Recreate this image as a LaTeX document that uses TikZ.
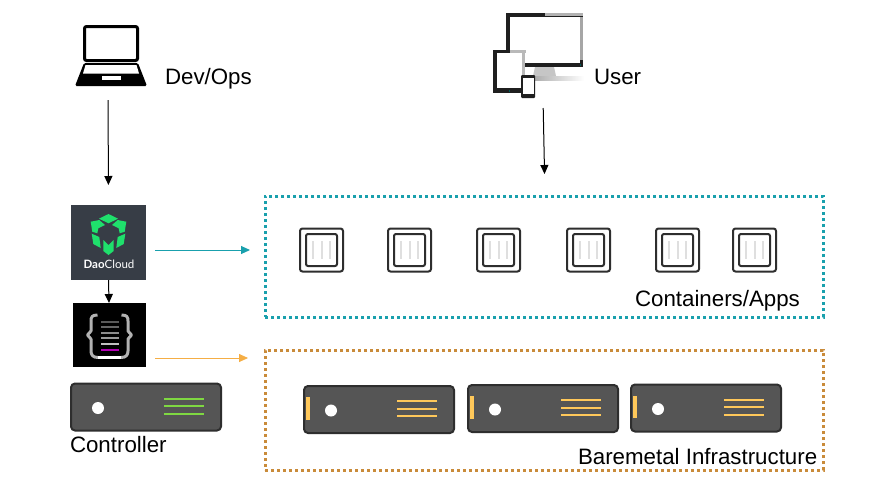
\documentclass[tikz,border=0pt]{standalone}
\usepackage{fontspec}
\setmainfont{Liberation Sans}
\newfontfamily\logofont{Lato}
\usetikzlibrary{arrows.meta}
\definecolor{tealc}{HTML}{19A0AD}
\definecolor{orangec}{HTML}{C98B3A}
\definecolor{daobg}{HTML}{373D46}
\definecolor{daogreen}{HTML}{1FE06C}
\definecolor{srvfill}{HTML}{555555}
\definecolor{srvedge}{HTML}{2E2E2E}
\definecolor{srvgreen}{HTML}{7FD842}
\definecolor{srvyellow}{HTML}{FFC85A}
\definecolor{thinorange}{HTML}{F5AE45}
\tikzset{
  conn/.style={-{Triangle[length=9pt,width=8pt]},line width=1pt,black},
  label/.style={font=\fontsize{22.3}{26}\selectfont,anchor=base west,inner sep=0pt,outer sep=0pt},
  zone/.style={line width=3pt,dash pattern=on 3pt off 3pt,anchor=north west,inner sep=0pt,outer sep=0pt},
  iconbox/.style={anchor=north west,inner sep=0pt,outer sep=0pt},
  server/.pic={
    \draw[fill=srvfill,draw=srvedge,line width=2pt,rounded corners=4pt] (0,0) rectangle (150,47);
    \fill[white] (27,24.5) circle (6);
    \draw[pic actions,line width=2pt] (93,15) -- (133,15) (93,22.5) -- (133,22.5) (93,30) -- (133,30);
  },
  container/.pic={
    \draw[srvedge,line width=2pt,rounded corners=2.5pt] (-21.5,-21.5) rectangle (21.5,21.5);
    \draw[srvedge,line width=2pt,rounded corners=2pt] (-15.5,-16) rectangle (15.5,16);
    \draw[gray!25,line width=2pt] (-8.5,-9) -- (-8.5,9) (0,-9) -- (0,9) (8.5,-9) -- (8.5,9);
  }
}
\begin{document}
\begin{tikzpicture}[x=1pt,y=-1pt]
\useasboundingbox (0,0) rectangle (873,499);
\fill[white] (0,0) rectangle (873,499);

% zones
\node[zone,draw=tealc,minimum width=558pt,minimum height=121pt] (apps) at (265,196) {};
\node[zone,draw=orangec,minimum width=558pt,minimum height=120pt] (infra) at (265,350) {};

% laptop
\node[iconbox,minimum width=72pt,minimum height=61pt] (laptop) at (72,25) {};
\draw[black,line width=3pt,rounded corners=2pt,fill=white] (84.5,26.5) rectangle (137.5,60.5);
\fill[black,rounded corners=1.5pt] (84,63) -- (138,63) -- (147,86) -- (75,86) -- cycle;
\fill[white] (85.5,65) -- (136.5,65) -- (139,73.5) -- (83,73.5) -- cycle;
\fill[white] (102,76) rectangle (121,80);

% devices
\node[iconbox,minimum width=90pt,minimum height=85pt] (devices) at (498,13) {};
\fill[black!88] (506,13) rectangle (583,67);
\fill[gray!60] (545,13) rectangle (583,16);
\fill[white] (510,17) rectangle (580,63);
\fill[gray!70] (580,17) rectangle (583,60);
\fill[teal!70!black] (579.5,64) rectangle (581,66);
\fill[gray!45] (535,67) -- (554,67) -- (556,76) -- (533,76) -- cycle;
\shade[left color=gray!70,right color=white] (530,76.5) rectangle (584,80);
\fill[black!88] (493,50) rectangle (524,93);
\fill[gray!55] (510,50) rectangle (526,53);
\fill[gray!55] (522,53) rectangle (525,75);
\fill[white] (497,53) rectangle (522,88);
\fill[teal!70!black] (508.5,90) rectangle (510,91.5);
\fill[black!88,rounded corners=1pt] (521,75) rectangle (535,98);
\fill[white] (522.5,78) rectangle (534,94);

% DaoCloud tile
\node[iconbox,fill=daobg,minimum width=75pt,minimum height=75pt] (dao) at (71,205) {};
\fill[daogreen] (108.5,214) -- (118,218.7) -- (108.5,223.3) -- (99,218.7) -- cycle;
\fill[daogreen] (90.7,221.7) -- (99.3,220) -- (105,225) -- (98.3,228.3) -- (97.3,233.3) -- (92.3,231.7) -- cycle;
\fill[daogreen] (126.3,221.7) -- (117.7,220) -- (112,225) -- (118.7,228.3) -- (119.7,233.3) -- (124.7,231.7) -- cycle;
\fill[daogreen] (91.7,233.7) -- (99.3,237) -- (100.7,248) -- (93.3,244) -- cycle;
\fill[daogreen] (125.3,233.7) -- (117.7,237) -- (116.3,248) -- (123.7,244) -- cycle;
\fill[daogreen] (103.3,240) -- (108.5,245) -- (113.7,240) -- (113.7,251) -- (108.5,255) -- (103.3,251) -- cycle;
\node[inner sep=0pt,text=white,font=\logofont\fontsize{11.5}{13}\selectfont] (daotext) at (109,264.5) {\textbf{Dao}Cloud};

% json tile
\node[iconbox,fill=black,minimum width=73pt,minimum height=64pt] (json) at (73,303) {};
\draw[gray!60,line width=3pt,line join=round] (97.5,315) .. controls (92,315) and (91,317) .. (91,321) -- (91,331) -- (87.5,335) -- (91,339) -- (91,351) .. controls (91,355) and (93,357.5) .. (98,357.5);
\draw[gray!60,line width=3pt,line join=round] (121.5,315) .. controls (127,315) and (128,317) .. (128,321) -- (128,331) -- (131.5,335) -- (128,339) -- (128,351) .. controls (128,355) and (126,357.5) .. (121,357.5);
\draw[white,line width=3pt] (98,357.5) -- (121,357.5);
\foreach \yy/\cc in {322/black!65,327/black!60,332.7/black!45,338/black!40,344/black!25}
  \draw[\cc,line width=2pt] (101,\yy) -- (119,\yy);
\draw[violet!60!magenta,line width=2.2pt] (101,349.7) -- (119,349.7);

% servers
\node[iconbox,minimum width=152pt,minimum height=47pt] (controller) at (70,383) {};
\pic[draw=srvgreen] at (71,383.5) {server};
\pic[draw=srvyellow] (s1) at (304,386) {server};
\pic[draw=srvyellow] (s2) at (468,385) {server};
\pic[draw=srvyellow] (s3) at (631,384.5) {server};
\fill[srvyellow] (306,397) rectangle (310,420);
\fill[srvyellow] (470,396) rectangle (474,419);
\fill[srvyellow] (633,395.5) rectangle (637,418);

% containers
\foreach \xx in {321.5,409.5,498.5,588.5,677.5,754.5}
  \pic at (\xx,250) {container};

% connectors
\coordinate (daoout) at ([yshift=-7.5pt]dao.east);
\coordinate (jsonout) at ([yshift=-23pt]json.east);
\coordinate (userfrom) at (devices.south -| 543,0);
\coordinate (userto) at (545,196);
\draw[conn,shorten <=14pt,shorten >=20pt] (laptop.south) -- (dao.north);
\draw[conn] (dao.south) -- ([xshift=-0.5pt]json.north);
\draw[conn,tealc,shorten <=9pt,shorten >=15pt] (daoout) -- (daoout -| apps.west);
\draw[conn,draw=thinorange,line width=0.8pt,shorten <=9pt,shorten >=17pt] (jsonout) -- (jsonout -| infra.west);
\draw[conn,shorten <=10pt,shorten >=22pt] (userfrom) -- (userto);

% labels
\node[label] (devops) at (165,84) {Dev/Ops};
\node[label] (user) at (594,84) {User};
\node[label] (capps) at (635,306) {Containers/Apps};
\node[label] (bare) at (578,464) {Baremetal Infrastructure};
\node[label] (ctrl) at (70,452) {Controller};
\end{tikzpicture}
\end{document}
